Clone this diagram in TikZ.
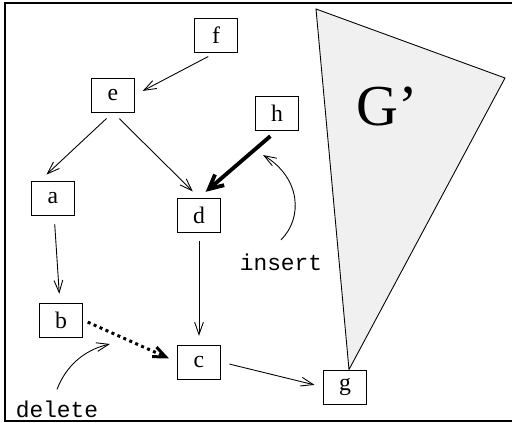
\documentclass[tikz,border=0pt]{standalone}
\usepackage{fontspec}
\setmainfont{Liberation Serif}
\setmonofont{Liberation Mono}
\usetikzlibrary{arrows.meta}
\begin{document}
\begin{tikzpicture}[x=0.02cm,y=-0.02cm,
  box/.style={draw,line width=0.5pt,minimum width=0.86cm,minimum height=0.68cm,inner sep=0pt,font=\fontsize{13.5}{15}\selectfont},
  arr/.style={line width=0.5pt,-{Straight Barb[length=7pt,width=5pt]},shorten <=5pt,shorten >=5pt},
  lbl/.style={font=\fontsize{13}{15}\selectfont\ttfamily}]
\useasboundingbox (0,0) rectangle (512,423);
\draw[line width=1.4pt] (512,3) -- (5,3) -- (5,421) -- (512,421);
\foreach \n/\x/\y in {f/216/35,e/113/95,h/277/113,a/53/198,d/199/215,b/61/320,c/199/362,g/345/387}
  {\node[box] (\n) at (\x,\y) {\n};}
\fill[gray!12] (316,9) -- (505,78) -- ([xshift=0.08cm]g.north) -- cycle;
\draw[line width=0.5pt] (316,9) -- (505,78) -- ([xshift=0.08cm]g.north) -- cycle;
\node[font=\fontsize{33}{36}\selectfont] (gp) at (387,107) {G'};
\foreach \s/\t in {f.south/e.east,e.south/d.north,a/b,d/c,c.east/g.west}
  {\draw[arr] (\s) -- (\t);}
\draw[arr] (e.south) -- ([xshift=0.18cm]a.north west);
\draw[arr,line width=2.2pt,-{Straight Barb[length=8pt,width=8pt]}] (h.south) -- (d.north);
\draw[arr,line width=1.7pt,dotted,-{Straight Barb[length=7pt,width=6pt]},shorten <=3pt] (b.east) -- (c.west);
% labels with bent arrows
\node[lbl] (ins) at (281,262) {insert};
\node[lbl] (del) at (57,409) {delete};
\coordinate (hin) at (263,155);
\coordinate (bin) at (110,344);
\draw[line width=0.5pt,-{Straight Barb[length=7pt,width=5pt]}] ([yshift=0.15cm]ins.north) .. controls (303,218) and (301,178) .. (hin);
\draw[line width=0.5pt,-{Straight Barb[length=7pt,width=5pt]}] ([yshift=0.1cm]del.north) .. controls (66,366) and (84,350) .. (bin);
\end{tikzpicture}
\end{document}
